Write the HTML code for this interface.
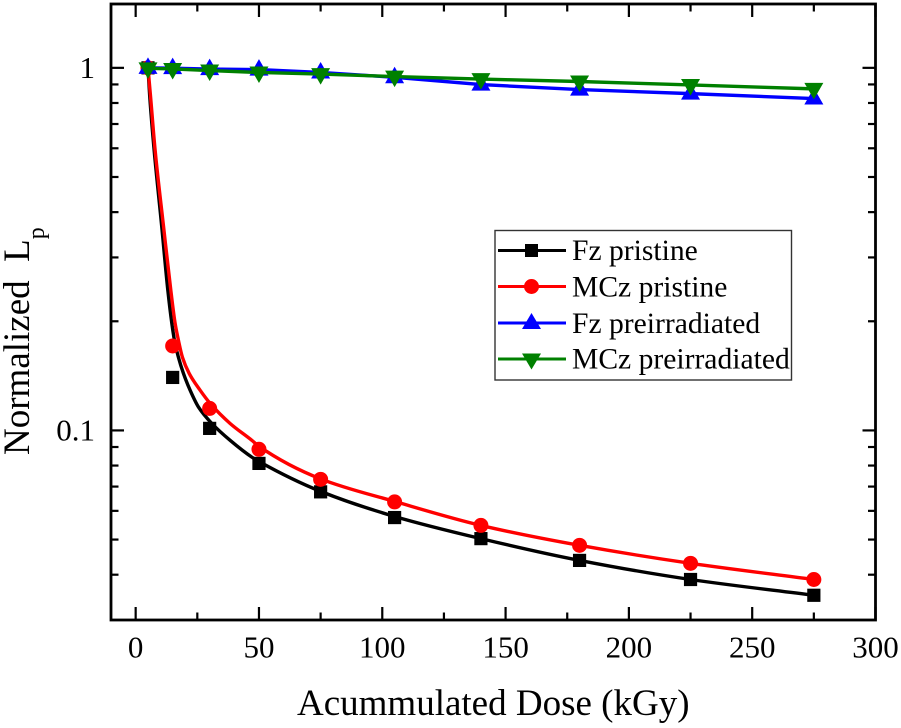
<!DOCTYPE html>
<html lang="en">
<head>
<meta charset="utf-8">
<title>Normalized Lp vs Accumulated Dose</title>
<style>
  html, body { margin: 0; padding: 0; background: #fff; }
  body { width: 901px; height: 728px; overflow: hidden; }
  svg { display: block; font-family: "Liberation Serif", serif; fill: #000; filter: blur(0.35px); }
</style>
</head>
<body>
<svg id="chart" xmlns="http://www.w3.org/2000/svg" width="901" height="728" viewBox="0 0 901 728">
  <rect x="0" y="0" width="901" height="728" fill="#fff"/>
  <g id="plot"></g>
  <rect x="111" y="4" width="764.5" height="616" fill="none" stroke="#000" stroke-width="2.8"/>
  <g id="ticks"></g>
  <text x="297" y="715" font-size="37">Acummulated Dose (kGy)</text>
  <text transform="translate(29,455) rotate(-90)" font-size="37" xml:space="preserve">Normalized  L<tspan font-size="24" dy="15">p</tspan></text>
  <g id="legend">
    <rect x="495" y="230.5" width="296.5" height="149.5" fill="#fff" stroke="#333" stroke-width="1.4"/>
    <g>
      <line x1="498" x2="566" y1="250.5" y2="250.5" stroke="#000" stroke-width="3"/>
      <rect x="525" y="244" width="13" height="13" fill="#000"/>
      <text x="572" y="260" font-size="29.6">Fz pristine</text>
    </g>
    <g>
      <line x1="498" x2="566" y1="286.5" y2="286.5" stroke="#f00" stroke-width="3"/>
      <circle cx="531.5" cy="286.5" r="7.5" fill="#f00"/>
      <text x="572" y="296.5" font-size="29.6">MCz pristine</text>
    </g>
    <g>
      <line x1="498" x2="566" y1="323" y2="323" stroke="#00f" stroke-width="3"/>
      <polygon points="531.5,313 541,329 522,329" fill="#00f"/>
      <text x="572" y="333" font-size="29.6">Fz preirradiated</text>
    </g>
    <g>
      <line x1="498" x2="566" y1="359" y2="359" stroke="#008000" stroke-width="3"/>
      <polygon points="522,353.5 541,353.5 531.5,369.5" fill="#008000"/>
      <text x="572" y="368.5" font-size="29.6">MCz preirradiated</text>
    </g>
  </g>
</svg>
<script>
// ---- data ----
const doses = [5, 15, 30, 50, 75, 105, 140, 180, 225, 275];
const fzPristine = [1, 0.14, 0.1013, 0.0811, 0.0677, 0.0575, 0.0503, 0.0438, 0.0388, 0.0351];
const mczPristine = [1, 0.171, 0.115, 0.0887, 0.0733, 0.0635, 0.0547, 0.0482, 0.043, 0.0388];
const fzPreirradiated = [1, 0.998, 0.992, 0.989, 0.971, 0.942, 0.899, 0.871, 0.849, 0.823];
const mczPreirradiated = [0.997, 0.993, 0.983, 0.971, 0.961, 0.946, 0.931, 0.917, 0.897, 0.875];

const fzFitDoses = [5, 5.68, 7.5, 10.54, 13.06, 14.68, 15.74, 17.36, 19.38, 22.1, 25.47, 30.9, 38.3, 47.1, 50, 75, 105, 140, 180, 225, 275];
const fzFitValues = [1, 0.839, 0.592, 0.367, 0.243, 0.197, 0.177, 0.159, 0.1436, 0.129, 0.116, 0.1045, 0.0939, 0.0844, 0.0821, 0.0679, 0.0579, 0.0503, 0.0438, 0.0388, 0.0351];
const mczFitDoses = [5, 6, 7.9, 11.27, 14.27, 16.02, 17.36, 18.98, 21.7, 26.16, 30.2, 38.3, 47.1, 50, 75, 105, 140, 180, 225, 275];
const mczFitValues = [1, 0.839, 0.592, 0.367, 0.243, 0.197, 0.177, 0.159, 0.1436, 0.129, 0.1187, 0.1045, 0.0939, 0.0904, 0.0735, 0.0637, 0.0547, 0.0482, 0.043, 0.0388];

const xMajorTicks = [0, 50, 100, 150, 200, 250, 300];
const xMinorTicks = [25, 75, 125, 175, 225, 275];
const yMajorTicks = [1, 0.1];
const yTickLabels = ["1", "0.1"];
const yMinorTicks = [0.9, 0.8, 0.7, 0.6, 0.5, 0.4, 0.3, 0.2, 0.09, 0.08, 0.07, 0.06, 0.05, 0.04];

// ---- axis functions ----
const xMin = -10, xMax = 300, yMin = 0.03, yMax = 1.5;
const pxLeft = 111, pxRight = 875.5, pxTop = 4, pxBottom = 620;
function xScale(v) { return pxLeft + (v - xMin) / (xMax - xMin) * (pxRight - pxLeft); }
function yScale(v) {
  const a = Math.log10(yMin), b = Math.log10(yMax);
  return pxBottom - (Math.log10(v) - a) / (b - a) * (pxBottom - pxTop);
}

const NS = "http://www.w3.org/2000/svg";
const plot = document.getElementById("plot");
const ticks = document.getElementById("ticks");

function make(tag, parent, attrs) {
  const el = document.createElementNS(NS, tag);
  for (const k in attrs) el.setAttribute(k, attrs[k]);
  parent.appendChild(el);
  return el;
}

function straightPath(xs, ys) {
  return xs.map((x, i) => (i ? "L" : "M") + xScale(x).toFixed(2) + " " + yScale(ys[i]).toFixed(2)).join(" ");
}

// Non-uniform cubic Hermite spline in screen space, avoids kinks at unevenly spaced points.
function smoothPath(xs, ys) {
  const px = xs.map(xScale), py = ys.map(yScale), n = px.length;
  const sl = [];
  for (let i = 0; i < n - 1; i++) sl.push((py[i + 1] - py[i]) / (px[i + 1] - px[i]));
  const m = [sl[0]];
  for (let i = 1; i < n - 1; i++) {
    const h0 = px[i] - px[i - 1], h1 = px[i + 1] - px[i];
    const w1 = 2 * h1 + h0, w2 = h1 + 2 * h0;
    m.push((w1 + w2) / (w1 / sl[i - 1] + w2 / sl[i]));
  }
  m.push(sl[n - 2]);
  let d = "M" + px[0].toFixed(2) + " " + py[0].toFixed(2);
  for (let i = 0; i < n - 1; i++) {
    const h = (px[i + 1] - px[i]) / 3;
    d += " C" + (px[i] + h).toFixed(2) + " " + (py[i] + m[i] * h).toFixed(2) + " " + (px[i + 1] - h).toFixed(2) + " " + (py[i + 1] - m[i + 1] * h).toFixed(2) + " " + px[i + 1].toFixed(2) + " " + py[i + 1].toFixed(2);
  }
  return d;
}

function drawMarker(shape, cx, cy, color) {
  if (shape === "square") return make("rect", plot, { x: cx - 6.6, y: cy - 6.6, width: 13.2, height: 13.2, fill: color });
  if (shape === "circle") return make("circle", plot, { cx: cx, cy: cy, r: 7.5, fill: color });
  if (shape === "up") return make("polygon", plot, { points: [cx, cy - 10.5, cx + 9.5, cy + 6, cx - 9.5, cy + 6].join(","), fill: color });
  return make("polygon", plot, { points: [cx - 9.5, cy - 6, cx + 9.5, cy - 6, cx, cy + 10.5].join(","), fill: color });
}

// ---- series ----
const fzFitLine = make("path", plot, { d: smoothPath(fzFitDoses, fzFitValues), fill: "none", stroke: "#000", "stroke-width": 3.4 });


doses.forEach((d, i) => {
  const m = drawMarker("square", xScale(d), yScale(fzPristine[i]), "#000");
  
  
});

const mczFitLine = make("path", plot, { d: smoothPath(mczFitDoses, mczFitValues), fill: "none", stroke: "#f00", "stroke-width": 3.4 });


doses.forEach((d, i) => {
  const m = drawMarker("circle", xScale(d), yScale(mczPristine[i]), "#f00");
  
  
});

const fzPreLine = make("path", plot, { d: straightPath(doses, fzPreirradiated), fill: "none", stroke: "#00f", "stroke-width": 3.4 });


doses.forEach((d, i) => {
  const m = drawMarker("up", xScale(d), yScale(fzPreirradiated[i]), "#00f");
  
  
});

const mczPreLine = make("path", plot, { d: straightPath(doses, mczPreirradiated), fill: "none", stroke: "#008000", "stroke-width": 3.4 });


doses.forEach((d, i) => {
  const m = drawMarker("down", xScale(d), yScale(mczPreirradiated[i]), "#008000");
  
  
});

// ---- ticks ----
function tickLine(x1, y1, x2, y2) {
  const t = make("line", ticks, { x1: x1, y1: y1, x2: x2, y2: y2, stroke: "#000", "stroke-width": 2.2 });
  
  
}
const majorLen = 13, minorLen = 7.5;
xMajorTicks.forEach(v => {
  const x = xScale(v);
  tickLine(x, pxBottom, x, pxBottom - majorLen);
  tickLine(x, pxTop, x, pxTop + majorLen);
  const label = make("text", ticks, { x: x, y: 657.5, "font-size": 31, "text-anchor": "middle" });
  
  
  label.textContent = String(v);
});
xMinorTicks.forEach(v => {
  const x = xScale(v);
  tickLine(x, pxBottom, x, pxBottom - minorLen);
  tickLine(x, pxTop, x, pxTop + minorLen);
});
yMajorTicks.forEach((v, i) => {
  const y = yScale(v);
  tickLine(pxLeft, y, pxLeft + majorLen, y);
  tickLine(pxRight, y, pxRight - majorLen, y);
  const label = make("text", ticks, { x: 95, y: y + 10, "font-size": 31, "text-anchor": "end" });
  
  
  label.textContent = yTickLabels[i];
});
yMinorTicks.forEach(v => {
  const y = yScale(v);
  tickLine(pxLeft, y, pxLeft + minorLen, y);
  tickLine(pxRight, y, pxRight - minorLen, y);
});
</script>
</body>
</html>
